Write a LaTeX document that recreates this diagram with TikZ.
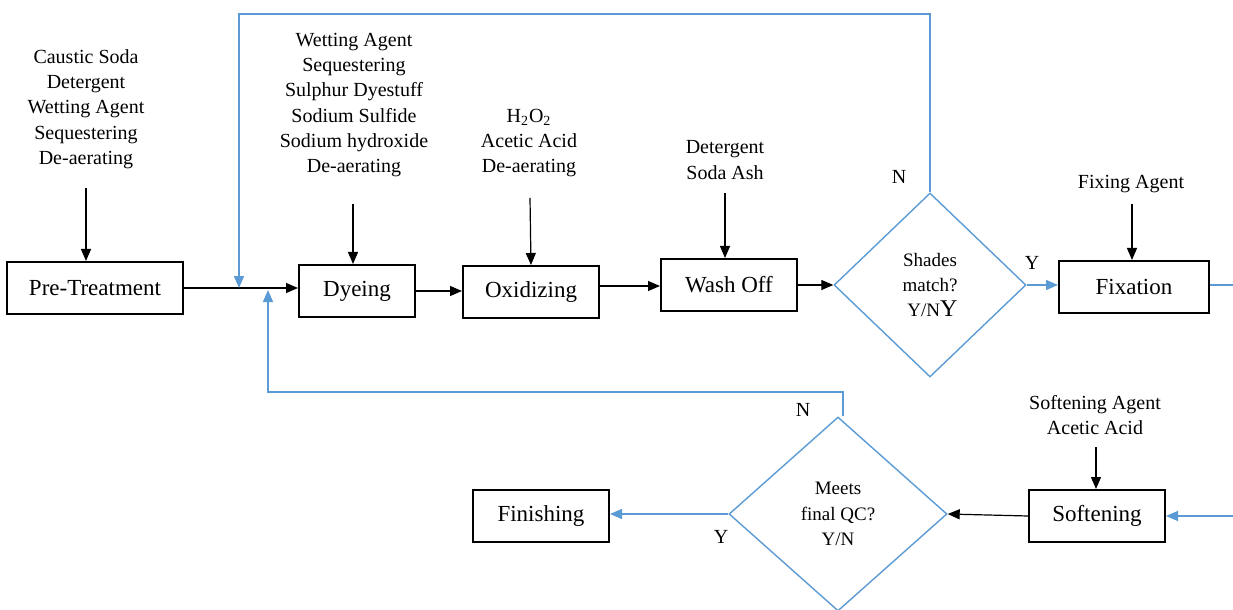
\documentclass[tikz,border=0pt]{standalone}
\usepackage{fontspec}
\setmainfont{Liberation Serif}
\usetikzlibrary{arrows.meta,shapes.geometric}
\definecolor{flowblue}{HTML}{5B9BD5}

\begin{document}
\begin{tikzpicture}[x=0.5pt,y=-0.5pt,
  stepbox/.style={draw,line width=1pt,minimum height=26pt,inner sep=0pt,
    font=\fontsize{11.5}{13}\selectfont},
  decide/.style={shape=diamond,draw=flowblue,line width=0.7pt,inner sep=0pt,
    align=center,font=\fontsize{9.5}{12.6}\selectfont},
  chem/.style={align=center,inner sep=0pt,font=\fontsize{10}{12.65}\selectfont},
  tag/.style={inner sep=0pt,font=\fontsize{10}{12}\selectfont},
  arr/.style={-{Triangle[length=6pt,width=5pt]},line width=0.6pt},
  barr/.style={-{Triangle[length=6pt,width=5pt]},draw=flowblue,line width=0.7pt},
  bline/.style={draw=flowblue,line width=0.7pt}]
\useasboundingbox (0,0) rectangle (1233,610);

% process steps
\node[stepbox,minimum width=88pt] (pre) at (95,288) {Pre-Treatment};
\node[stepbox,minimum width=58pt] (dye) at (357,291) {Dyeing};
\node[stepbox,minimum width=68pt] (oxi) at (531,292) {Oxidizing};
\node[stepbox,minimum width=68pt] (wash) at (729,285) {Wash Off};
\node[decide,minimum width=96pt,minimum height=92pt] (shade) at (930,285)
  {Shades\\match?\\\ Y/N{\fontsize{12}{12}\selectfont Y}};
\node[stepbox,minimum width=75pt] (fix) at (1134,287) {Fixation};
\node[stepbox,minimum width=68pt] (soft) at (1097,516) {Softening};
\node[decide,minimum width=109pt,minimum height=97pt] (qc) at (838,514)
  {Meets\\final QC?\\Y/N};
\node[stepbox,minimum width=68pt] (fin) at (541,516) {Finishing};

% chemical inputs
\node[chem] (cpre) at (86,109) {Caustic Soda\\Detergent\\Wetting Agent\\Sequestering\\De-aerating};
\node[chem] (cdye) at (354,105) {Wetting Agent\\Sequestering\\Sulphur Dyestuff\\Sodium Sulfide\\Sodium hydroxide\\De-aerating};
\node[chem] (coxi) at (529,143) {H\textsubscript{2}O\textsubscript{2}\\Acetic Acid\\De-aerating};
\node[chem] (cwash) at (725,160) {Detergent\\Soda Ash};
\node[chem] (cfix) at (1131,184) {Fixing Agent};
\node[chem] (csoft) at (1095,415) {Softening Agent\\Acetic Acid};

\coordinate (spre) at (86,188);
\coordinate (sdye) at (353,204);
\coordinate (soxi) at (530,198);
\coordinate (swash) at (725,193);
\coordinate (sfix) at (1132,204);
\coordinate (ssoft) at (1096,447);
\draw[arr] (spre) -- (spre |- pre.north);
\draw[arr] (sdye) -- (sdye |- dye.north);
\draw[arr] (soxi) -- (oxi.north);
\draw[arr] (swash) -- (swash |- wash.north);
\draw[arr] (sfix) -- (sfix |- fix.north);
\draw[arr] (ssoft) -- (ssoft |- soft.north);

% main flow
\draw[arr] (pre.east) -- (pre.east -| dye.west);
\draw[arr] (dye.east) -- (dye.east -| oxi.west);
\coordinate (oxo) at (599,286);
\draw[arr] (oxo) -- (oxo -| wash.west);
\draw[arr] (wash.east) -- (shade.west);
\draw[barr] (shade.east) -- (shade.east -| fix.west);
\coordinate (outr) at (1233,285);
\draw[bline] (fix.east |- outr) -- (outr);
\coordinate (inr) at (1233,516);
\draw[barr] (inr) -- (inr -| soft.east);
\draw[arr] (soft.west) -- (qc.east);
\draw[barr] (qc.west) -- (qc.west -| fin.east);

% rework loops
\coordinate (topy) at (0,14);
\coordinate (retA) at (239,288);
\draw[barr] (shade.north) -- (shade.north |- topy) -| (retA);
\coordinate (qcout) at (843,416);
\coordinate (lowy) at (0,392);
\coordinate (retB) at (268,290);
\draw[barr] (qcout) -- (qcout |- lowy) -| (retB);

% decision labels
\node[tag] (n1) at (899,177) {N};
\node[tag] (y1) at (1032,263) {Y};
\node[tag] (n2) at (803,410) {N};
\node[tag] (y2) at (721,537) {Y};
\end{tikzpicture}
\end{document}
